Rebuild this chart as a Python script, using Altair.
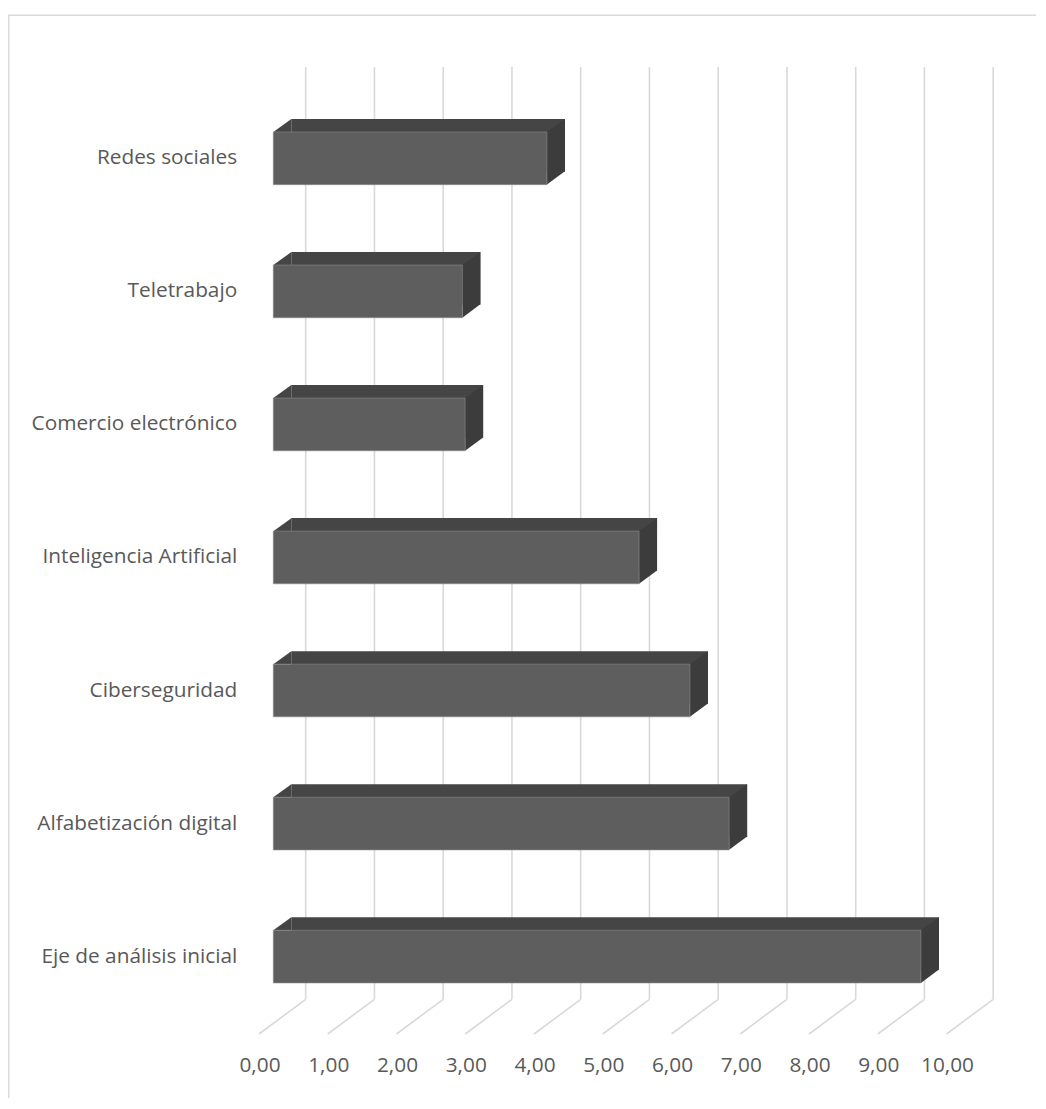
import altair as alt
import pandas as pd

categories = ["Redes sociales", "Teletrabajo", "Comercio electrónico",
              "Inteligencia Artificial", "Ciberseguridad",
              "Alfabetización digital", "Eje de análisis inicial"]
values = [3.98, 2.75, 2.79, 5.32, 6.06, 6.63, 9.42]
tick_values = [0, 1, 2, 3, 4, 5, 6, 7, 8, 9, 10]
tick_labels = ["0,00", "1,00", "2,00", "3,00", "4,00", "5,00",
               "6,00", "7,00", "8,00", "9,00", "10,00"]

bars = pd.DataFrame({"cat": categories, "value": values, "zero": [0] * len(values)})
ticks = pd.DataFrame({"v": tick_values, "lab": tick_labels})
one = pd.DataFrame({"a": [0]})

W = 687.5
H = 967
FONT = "Open Sans"
FS = 20.8
TXT = "#595959"
GRID = "#d9d9d9"

xscale = alt.Scale(domain=[0, 10], nice=False, zero=True)
yscale = alt.Scale(domain=categories, paddingInner=0.604, paddingOuter=0.436, align=0.56)

X = alt.X("value:Q", scale=xscale, axis=None)
Y = alt.Y("cat:N", scale=yscale,
          axis=alt.Axis(domain=False, ticks=False, grid=False, title=None,
                        labelPadding=36.6, labelFont=FONT, labelFontSize=FS,
                        labelColor=TXT, labelLimit=400))

frame = alt.Chart(one).mark_rect(filled=False, stroke=GRID, strokeWidth=1.4).encode(
    x=alt.value(-264.5), x2=alt.value(W + 120),
    y=alt.value(-51.7), y2=alt.value(H + 120))

grid = alt.Chart(ticks).mark_rule(xOffset=32.4, color=GRID, strokeWidth=1.6).encode(
    x=alt.X("v:Q", scale=xscale, axis=None),
    y=alt.value(0), y2=alt.value(932.3))

diag = alt.Chart(ticks).mark_rule(xOffset=32.4, x2Offset=-14.3, color=GRID, strokeWidth=1.6).encode(
    x=alt.X("v:Q", scale=xscale, axis=None), x2=alt.X2("v"),
    y=alt.value(932.3), y2=alt.value(967))

labels = alt.Chart(ticks).mark_text(xOffset=-13.3, font=FONT, fontSize=FS, color=TXT,
                                    baseline="middle", align="center").encode(
    x=alt.X("v:Q", scale=xscale, axis=None), y=alt.value(999.3), text="lab:N")

TOP = "#454545"
SIDE = "#3c3c3c"
FRONT = "#5e5e5e"

back = alt.Chart(bars).mark_bar(color=TOP, xOffset=18, x2Offset=18, yOffset=-13, y2Offset=-13).encode(
    x=X, y=Y)

side_path = "M0,-0.6575 L0.45,-0.9825 L0.45,0.325 L0,0.6575 Z"
tl_path = "M0,-0.6575 L0.45,-0.9825 L0.45,-0.6575 Z"

side = alt.Chart(bars).mark_point(shape=side_path, size=6400, filled=True, fill=SIDE,
                                  strokeWidth=0, opacity=1).encode(x=X, y=Y)
tl = alt.Chart(bars).mark_point(shape=tl_path, size=6400, filled=True, fill=TOP,
                                strokeWidth=0, opacity=1).encode(
    x=alt.X("zero:Q", scale=xscale, axis=None), y=Y)

front = alt.Chart(bars).mark_bar(color=FRONT, stroke="#8a8a8a", strokeWidth=0.6).encode(x=X, y=Y)

chart = alt.layer(frame, grid, diag, back, tl, side, front, labels).properties(
    width=W, height=H,
    padding={"left": 265.3, "top": 59, "right": 75.2, "bottom": 64},
    autosize=alt.AutoSizeParams(type="none"),
).configure_view(stroke=None)

chart.save("out.html", embed_options={"renderer": "svg", "actions": False})
